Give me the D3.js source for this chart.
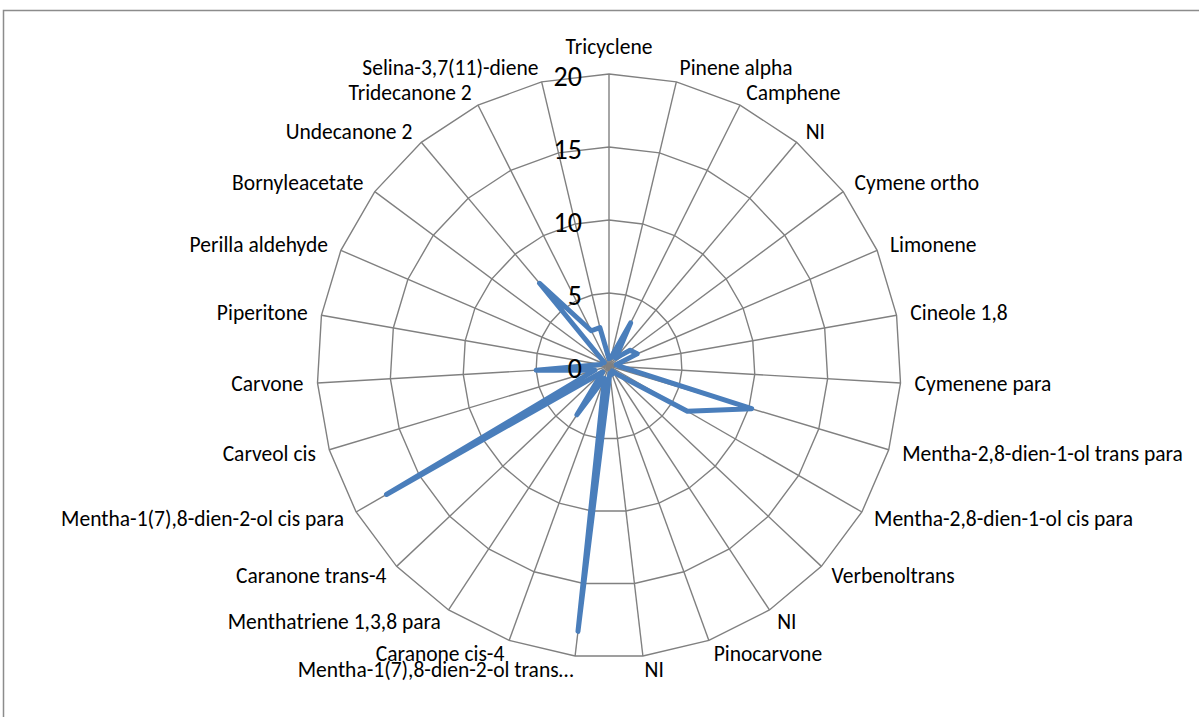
<!DOCTYPE html>
<html>
<head>
<meta charset="utf-8">
<script src="https://cdn.jsdelivr.net/npm/d3@7"></script>
<style>
  html, body { margin: 0; padding: 0; background: #ffffff; }
  svg { display: block; }
</style>
</head>
<body>
<svg id="chart" width="1199" height="717"></svg>
<script>
const categories = [
  "Tricyclene", "Pinene alpha", "Camphene", "NI", "Cymene ortho", "Limonene",
  "Cineole 1,8", "Cymenene para", "Mentha-2,8-dien-1-ol trans para",
  "Mentha-2,8-dien-1-ol cis para", "Verbenoltrans", "NI", "Pinocarvone", "NI",
  "Mentha-1(7),8-dien-2-ol trans…", "Caranone cis-4", "Menthatriene 1,3,8 para",
  "Caranone trans-4", "Mentha-1(7),8-dien-2-ol cis para", "Carveol cis", "Carvone",
  "Piperitone", "Perilla aldehyde", "Bornyleacetate", "Undecanone 2",
  "Tridecanone 2", "Selina-3,7(11)-diene"
];
const values = [
  0.5, 0.6, 3.3, 0.7, 1.8, 2.1,
  0.5, 0.8, 10.2,
  6.2, 0.9, 0.4, 0.6, 0.5,
  18.3, 0.9, 4.0,
  0.6, 17.6, 1.0, 5.0,
  0.6, 0.5, 0.4, 7.4,
  2.7, 2.7
];
const tickValues = [0, 5, 10, 15, 20];

const svg = d3.select("#chart");
const W = 1199, H = 717;
const cx = 609, cy = 366, R = 292;
const n = categories.length;
const fontFamily = "Carlito, Calibri, Lato, 'Open Sans', sans-serif";
const catSize = 21.5;

// outer chart-area border (extends past right and bottom edges)
svg.append("rect")
  .attr("x", 3.5).attr("y", 10.5)
  .attr("width", W + 20).attr("height", H + 20)
  .attr("fill", "none").attr("stroke", "#8c8c8c").attr("stroke-width", 1.5);

const r = d3.scaleLinear().domain([0, 20]).range([0, R]);
const ang = d3.scaleLinear().domain([0, n]).range([0, 2 * Math.PI]);

const g = svg.append("g").attr("transform", `translate(${cx},${cy})`);

// rings
const ringLine = d3.lineRadial()
  .angle((d, i) => ang(i))
  .radius(d => r(d))
  .curve(d3.curveLinearClosed);

g.selectAll("path.ring")
  .data(tickValues.filter(t => t > 0))
  .join("path")
  .attr("class", "ring")
  .attr("d", t => ringLine(d3.range(n).map(() => t)))
  .attr("fill", "none")
  .attr("stroke", "#808080")
  .attr("stroke-width", 1.4);

// spokes
g.selectAll("line.spoke")
  .data(d3.range(n))
  .join("line")
  .attr("class", "spoke")
  .attr("x1", 0).attr("y1", 0)
  .attr("x2", i => r(20) * Math.sin(ang(i)))
  .attr("y2", i => -r(20) * Math.cos(ang(i)))
  .attr("stroke", "#808080")
  .attr("stroke-width", 1.4);

// data series
g.append("path")
  .datum(values)
  .attr("d", ringLine)
  .attr("fill", "none")
  .attr("stroke", "#4a7ebb")
  .attr("stroke-width", 5)
  .attr("stroke-linejoin", "round")
  .attr("stroke-linecap", "round");

// radial tick labels
g.selectAll("text.tick")
  .data(tickValues)
  .join("text")
  .attr("class", "tick")
  .attr("x", -27)
  .attr("y", t => -r(t) + 2)
  .attr("text-anchor", "end")
  .attr("dominant-baseline", "central")
  .attr("font-family", fontFamily)
  .attr("font-size", 28)
  .attr("fill", "#000")
  .text(t => t);

// category labels
const off = 14;
g.selectAll("text.cat")
  .data(categories)
  .join("text")
  .attr("class", "cat")
  .each(function(d, i) {
    const a = ang(i);
    const s = Math.sin(a), c = Math.cos(a);
    const px = (r(20) + off) * s;
    const py = -(r(20) + off) * c;
    const t = d3.select(this);
    if (Math.abs(s) < 0.01) {
      t.attr("text-anchor", "middle").attr("x", px).attr("y", py - 13 * c);
    } else {
      t.attr("text-anchor", s > 0 ? "start" : "end").attr("x", px).attr("y", py);
    }
  })
  .attr("dominant-baseline", "central")
  .attr("font-family", fontFamily)
  .attr("font-size", catSize)
  .attr("fill", "#000")
  .text(d => d);
</script>
</body>
</html>
